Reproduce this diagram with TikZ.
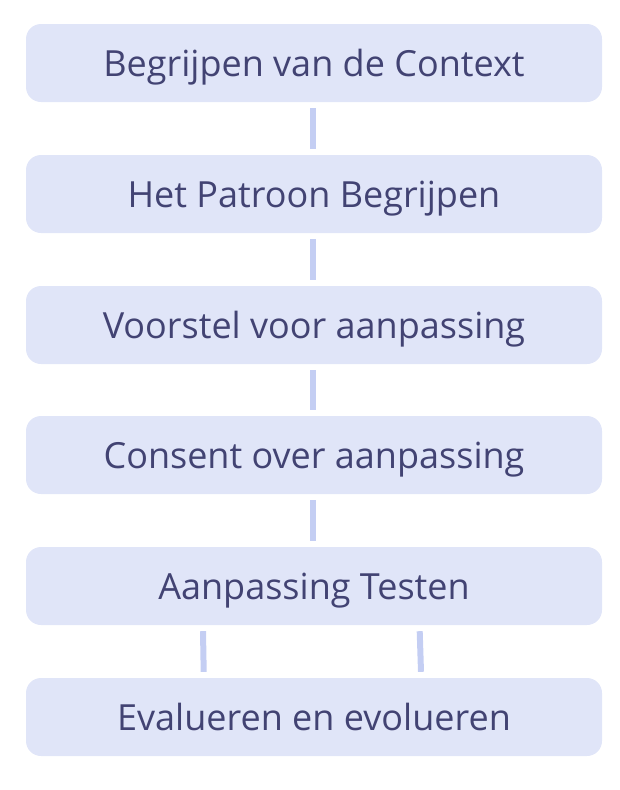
\documentclass[tikz,border=0pt]{standalone}
\usepackage{fontspec}
\setmainfont{Open Sans}
\definecolor{boxfill}{HTML}{E0E5F8}
\definecolor{txt}{HTML}{424373}
\definecolor{conn}{HTML}{C4CEF3}
\begin{document}
\begin{tikzpicture}[x=1pt,y=-1pt,
  stepbox/.style={fill=boxfill, rounded corners=15pt, minimum width=576pt, minimum height=78pt, inner sep=0pt, text height=26pt, text depth=0pt, text=txt, font=\fontsize{36}{42}\selectfont},
  link/.style={draw=conn, line width=6pt}]
\useasboundingbox (0,0) rectangle (620,790);
\node[stepbox] (b1) at (314,63) {Begrijpen van de Context};
\node[stepbox] (b2) at (314,194) {Het Patroon Begrijpen};
\node[stepbox] (b3) at (314,325) {Voorstel voor aanpassing};
\node[stepbox] (b4) at (314,455) {Consent over aanpassing};
\node[stepbox] (b5) at (314,586) {Aanpassing Testen};
\node[stepbox] (b6) at (314,717) {Evalueren en evolueren};
\draw[link] ([xshift=-0.6pt,yshift=-6pt]b1.south) -- ([xshift=-0.6pt,yshift=6pt]b2.north);
\draw[link] ([xshift=-0.6pt,yshift=-6pt]b2.south) -- ([xshift=-0.6pt,yshift=6pt]b3.north);
\draw[link] ([xshift=-0.6pt,yshift=-6pt]b3.south) -- ([xshift=-0.6pt,yshift=6pt]b4.north);
\draw[link] ([xshift=-0.6pt,yshift=-6pt]b4.south) -- ([xshift=-0.6pt,yshift=6pt]b5.north);
\draw[link] ([xshift=-111pt,yshift=-6pt]b5.south) -- ([xshift=-110.3pt,yshift=6pt]b6.north);
\draw[link] ([xshift=105.7pt,yshift=-6pt]b5.south) -- ([xshift=107pt,yshift=6pt]b6.north);
\end{tikzpicture}
\end{document}
